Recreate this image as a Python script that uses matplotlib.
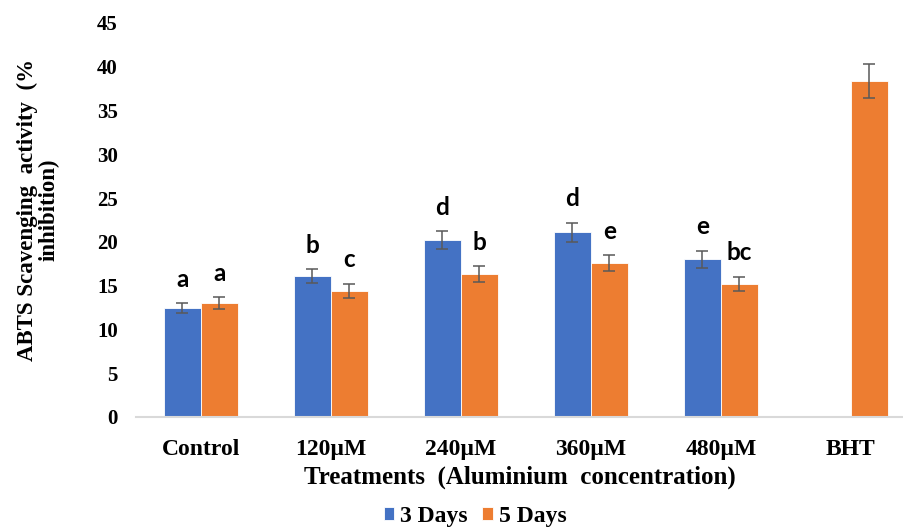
import matplotlib
matplotlib.use("Agg")
import matplotlib.pyplot as plt
import numpy as np

categories = ["Control", "120\u00b5M", "240\u00b5M", "360\u00b5M", "480\u00b5M", "BHT"]
days3 = [12.4, 16.1, 20.2, 21.1, 18.0, np.nan]
days3_err = [0.57, 0.8, 1.0, 1.1, 1.0, 0]
days5 = [13.0, 14.4, 16.3, 17.6, 15.2, 38.4]
days5_err = [0.66, 0.8, 0.9, 0.9, 0.8, 1.95]
letters3 = ["a", "b", "d", "d", "e", ""]
letters5 = ["a", "c", "b", "e", "bc", ""]

blue = "#4472C4"
orange = "#ED7D31"
serif = "Liberation Serif"

fig = plt.figure(figsize=(9.04, 5.27), dpi=100)
ax = fig.add_axes([136/904, (527-417)/527, (904-136)/904, (417-23)/527])

x = np.arange(len(categories))
w = 0.285
ax.bar(x - w/2, days3, w, color=blue, edgecolor="white", linewidth=0.6, label="3 Days")
ax.bar(x + w/2, days5, w, color=orange, edgecolor="white", linewidth=0.6, label="5 Days")
m3 = ~np.isnan(np.array(days3, dtype=float))
ax.errorbar((x - w/2)[m3], np.array(days3)[m3], yerr=np.array(days3_err)[m3], fmt="none",
            ecolor="#595959", elinewidth=1.1, capsize=4, capthick=1.1)
ax.errorbar(x + w/2, days5, yerr=days5_err, fmt="none",
            ecolor="#595959", elinewidth=1.1, capsize=4, capthick=1.1)

for i in range(len(categories)):
    if letters3[i]:
        ax.annotate(letters3[i], (x[i] - w/2, days3[i] + days3_err[i]), xytext=(0, 9),
                    textcoords="offset points", ha="center", va="bottom",
                    fontsize=17.5, fontweight="bold", family="Lato")
    if letters5[i]:
        ax.annotate(letters5[i], (x[i] + w/2, days5[i] + days5_err[i]), xytext=(0, 9),
                    textcoords="offset points", ha="center", va="bottom",
                    fontsize=17.5, fontweight="bold", family="Lato")

ax.set_xlim(-0.5, 5.41)
ax.set_ylim(0, 45)
ax.set_yticks(np.arange(0, 46, 5))
ax.set_xticks(x)
ax.set_xticklabels(categories, fontsize=17, fontweight="bold", family=serif)
for t in ax.get_yticklabels():
    t.set_fontsize(15)
    t.set_fontweight("bold")
    t.set_family(serif)
ax.tick_params(axis="both", length=0)
ax.tick_params(axis="y", pad=13)
ax.tick_params(axis="x", pad=16)
for s in ["top", "right", "left"]:
    ax.spines[s].set_visible(False)
ax.spines["bottom"].set_color("#D9D9D9")
ax.spines["bottom"].set_linewidth(1.5)

ax.set_xlabel("Treatments  (Aluminium  concentration)", fontsize=18, fontweight="bold",
              family=serif, labelpad=4)
ax.set_ylabel("ABTS Scavenging  activity  (%\ninhibition)", fontsize=16.5, fontweight="bold",
              family=serif, linespacing=1.05)
ax.yaxis.set_label_coords(-0.099, 0.525)

leg = fig.legend(loc="lower center", bbox_to_anchor=(475/904, -0.04), ncol=2, frameon=False,
                 prop={"family": serif, "weight": "bold", "size": 17},
                 handlelength=0.45, handleheight=0.45, handletextpad=0.25, columnspacing=0.6)

fig.savefig("out.png", dpi=100)
